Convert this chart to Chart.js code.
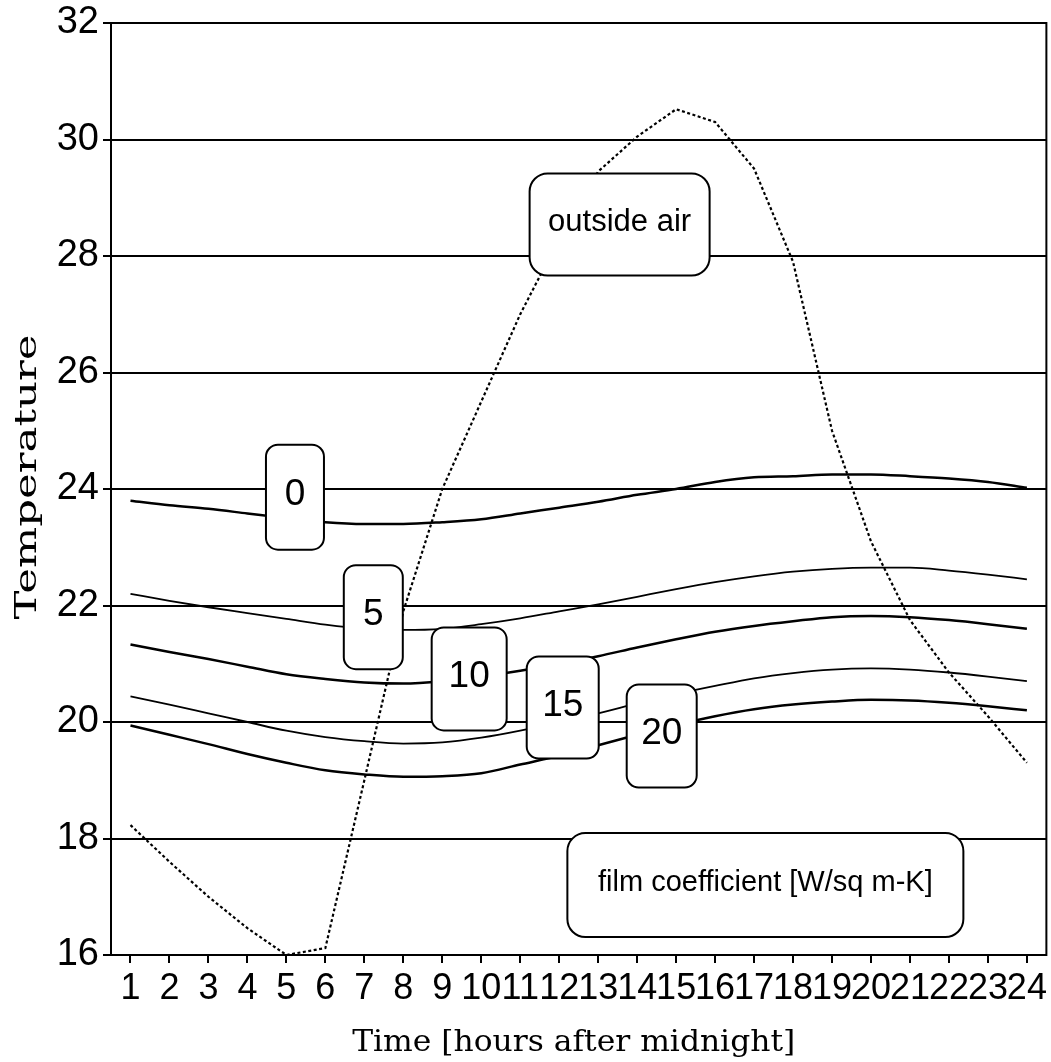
<!DOCTYPE html>
<html>
<head>
<meta charset="utf-8">
<script src="https://cdn.jsdelivr.net/npm/chart.js@4.4.1/dist/chart.umd.min.js"></script>
<style>
  html, body { margin: 0; padding: 0; background: #fff; }
</style>
</head>
<body>
<canvas id="chart" width="1051" height="1062"></canvas>
<script>
// hours after midnight
var hours = [1, 2, 3, 4, 5, 6, 7, 8, 9, 10, 11, 12, 13, 14, 15, 16, 17, 18, 19, 20, 21, 22, 23, 24];

// outside air temperature (dotted)
var outsideAir = [18.23, 17.6, 17.0, 16.46, 16.0, 16.12, 19.0, 21.9, 24.0, 25.5, 27.0, 28.3, 29.45, 30.05, 30.52, 30.3, 29.5, 27.9, 25.0, 23.1, 21.75, 20.85, 20.1, 19.3];

// room temperature for each film coefficient [W/sq m-K]
var film0 = [23.8, 23.72, 23.66, 23.58, 23.5, 23.43, 23.4, 23.4, 23.43, 23.48, 23.58, 23.68, 23.78, 23.9, 24.0, 24.12, 24.2, 24.22, 24.25, 24.25, 24.22, 24.18, 24.12, 24.02];
var film5 = [22.2, 22.08, 21.97, 21.87, 21.77, 21.67, 21.6, 21.58, 21.6, 21.68, 21.78, 21.9, 22.02, 22.15, 22.28, 22.4, 22.5, 22.58, 22.63, 22.65, 22.65, 22.6, 22.53, 22.45];
var film10 = [21.33, 21.2, 21.08, 20.95, 20.82, 20.74, 20.68, 20.66, 20.7, 20.78, 20.88, 21.0, 21.13, 21.28, 21.42, 21.55, 21.65, 21.73, 21.8, 21.82, 21.8, 21.75, 21.68, 21.6];
var film15 = [20.44, 20.3, 20.15, 20.0, 19.85, 19.74, 19.67, 19.63, 19.65, 19.73, 19.85, 20.0, 20.15, 20.32, 20.48, 20.62, 20.75, 20.84, 20.9, 20.92, 20.9, 20.85, 20.78, 20.7];
var film20 = [19.94, 19.78, 19.62, 19.45, 19.3, 19.17, 19.1, 19.06, 19.07, 19.12, 19.27, 19.42, 19.6, 19.78, 19.95, 20.1, 20.22, 20.3, 20.35, 20.38, 20.37, 20.33, 20.27, 20.2];

var filmSeries = [film0, film5, film10, film15, film20];
var filmNames = ['0', '5', '10', '15', '20'];
var filmWidths = [2.5, 1.8, 2.5, 1.8, 2.5];

var yMin = 16, yMax = 32, yStep = 2;

// boxed labels: centre in data units (hour, temperature), size in px
var boxes = [
  { text: '0', h: 5.22, t: 23.86, w: 58, ht: 105, size: 37 },
  { text: '5', h: 7.23, t: 21.80, w: 59, ht: 104, size: 37 },
  { text: '10', h: 9.69, t: 20.74, w: 75, ht: 103, size: 37 },
  { text: '15', h: 12.09, t: 20.25, w: 72, ht: 102, size: 37 },
  { text: '20', h: 14.63, t: 19.76, w: 70, ht: 103, size: 37 },
  { text: 'outside air', h: 13.55, t: 28.54, w: 180, ht: 102, size: 31 },
  { text: 'film coefficient [W/sq m-K]', h: 17.29, t: 17.20, w: 396, ht: 104, size: 29 }
];

function toPoints(arr) {
  return hours.map(function (h, i) { return { x: h, y: arr[i] }; });
}

var datasets = filmSeries.map(function (arr, i) {
  return {
    label: filmNames[i],
    data: toPoints(arr),
    borderColor: '#000',
    borderWidth: filmWidths[i],
    pointRadius: 0,
    cubicInterpolationMode: 'monotone',
    fill: false
  };
});
datasets.push({
  label: 'outside air',
  data: toPoints(outsideAir),
  borderColor: '#000',
  borderWidth: 2.2,
  borderDash: [3, 2.5],
  pointRadius: 0,
  tension: 0,
  fill: false
});

var sans = 'Liberation Sans, Arial, Helvetica, sans-serif';
var serif = 'DejaVu Serif, serif';

// frame round the plot area
var framePlugin = {
  id: 'frame',
  afterDatasetsDraw: function (chart) {
    var a = chart.chartArea, ctx = chart.ctx;
    ctx.save();
    ctx.strokeStyle = '#000';
    ctx.lineWidth = 2;
    ctx.strokeRect(a.left, a.top, a.right - a.left, a.bottom - a.top);
    ctx.restore();
  }
};

// rounded label boxes
var boxPlugin = {
  id: 'boxes',
  afterDatasetsDraw: function (chart) {
    var ctx = chart.ctx, xs = chart.scales.x, ys = chart.scales.y;
    ctx.save();
    boxes.forEach(function (b) {
      var cx = xs.getPixelForValue(b.h);
      var cy = ys.getPixelForValue(b.t);
      var r = b.w > 100 ? 18 : 12;
      ctx.beginPath();
      ctx.roundRect(cx - b.w / 2, cy - b.ht / 2, b.w, b.ht, r);
      ctx.fillStyle = '#fff';
      ctx.fill();
      ctx.lineWidth = 2;
      ctx.strokeStyle = '#000';
      ctx.stroke();
      ctx.fillStyle = '#000';
      ctx.font = b.size + 'px ' + sans;
      ctx.textAlign = 'center';
      ctx.textBaseline = 'middle';
      ctx.fillText(b.text, cx, cy - 2);
    });
    ctx.restore();
  }
};

// axis titles, stretched wide like the original
var titlePlugin = {
  id: 'titles',
  afterDraw: function (chart) {
    var a = chart.chartArea, ctx = chart.ctx;
    ctx.save();
    ctx.fillStyle = '#000';
    ctx.font = '30px ' + serif;
    ctx.textAlign = 'center';
    ctx.textBaseline = 'alphabetic';

    var xt = 'Time [hours after midnight]';
    var sx = 443 / ctx.measureText(xt).width;
    ctx.save();
    ctx.translate((a.left + a.right) / 2 - 5, 1051);
    ctx.scale(sx, 1);
    ctx.fillText(xt, 0, 0);
    ctx.restore();

    var yt = 'Temperature';
    var sy = 285 / ctx.measureText(yt).width;
    ctx.save();
    ctx.translate(36, 477);
    ctx.rotate(-Math.PI / 2);
    ctx.scale(sy, 1);
    ctx.fillText(yt, 0, 0);
    ctx.restore();

    ctx.restore();
  }
};

new Chart(document.getElementById('chart'), {
  type: 'line',
  data: { datasets: datasets },
  options: {
    responsive: false,
    animation: false,
    devicePixelRatio: 1,
    layout: { padding: { top: 22, right: 4, left: 0, bottom: 0 } },
    plugins: { legend: { display: false }, tooltip: { enabled: false } },
    scales: {
      x: {
        type: 'linear',
        min: 0.5,
        max: 24.5,
        afterBuildTicks: function (scale) {
          scale.ticks = hours.map(function (h) { return { value: h }; });
        },
        afterFit: function (scale) { scale.height = 107; },
        ticks: {
          autoSkip: false,
          maxRotation: 0,
          color: '#000',
          padding: 4,
          font: { family: sans, size: 36 },
          callback: function (v) { return String(v); }
        },
        grid: { drawOnChartArea: false, drawTicks: true, tickLength: 8, color: '#000', lineWidth: 2 },
        border: { display: true, color: '#000', width: 2 }
      },
      y: {
        min: yMin,
        max: yMax,
        afterFit: function (scale) { scale.width = 111; },
        ticks: {
          stepSize: yStep,
          color: '#000',
          padding: 4,
          font: { family: sans, size: 38, lineHeight: 1 }
        },
        grid: { color: '#000', lineWidth: 2, tickLength: 8 },
        border: { display: true, color: '#000', width: 2 }
      }
    }
  },
  plugins: [framePlugin, boxPlugin, titlePlugin]
});
</script>
</body>
</html>
